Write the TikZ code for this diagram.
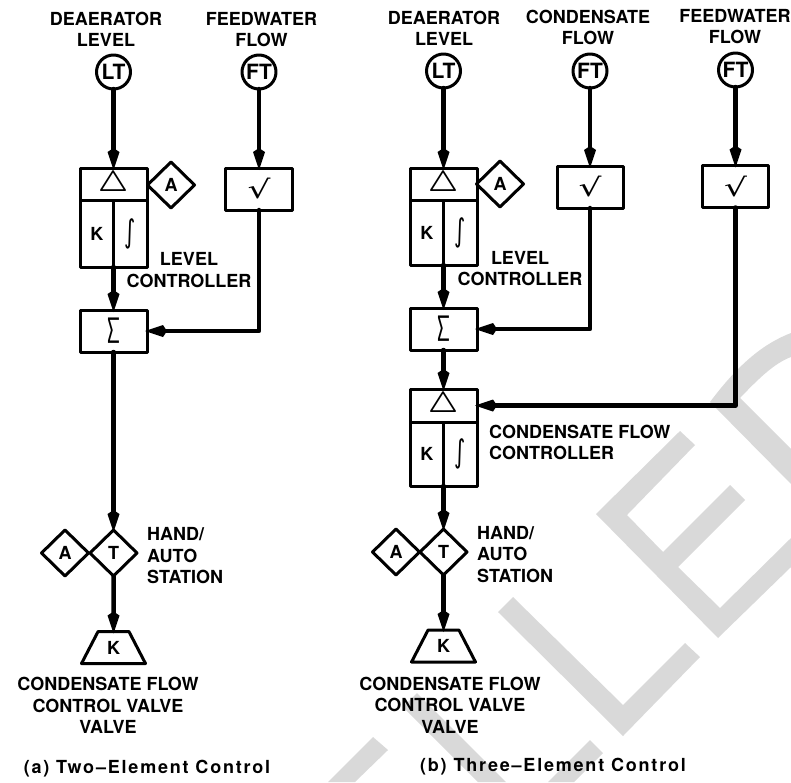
\documentclass[tikz,border=0pt]{standalone}
\usepackage{fontspec}
\setmainfont{TeX Gyre Heros}
\newfontfamily\symfont{DejaVu Sans}
\usetikzlibrary{arrows.meta,shapes.geometric}
\newcommand{\deltasign}{\raisebox{-3pt}{\scalebox{1.7}{$\bigtriangleup$}}}
\newcommand{\intsign}{\scalebox{1.2}[1.75]{\symfont\mdseries ∫}}
\newcommand{\sumsign}{\scalebox{1.2}[1.65]{\mdseries ∑}}
\newcommand{\rootsign}{\scalebox{2}[1.4]{\symfont\mdseries √}}
\begin{document}
\begin{tikzpicture}[
    x=1pt,
    y=-1pt,
    line cap=round,
    line join=round,
    tagtext/.style={font=\fontsize{18}{21.5}\selectfont\bfseries,inner sep=0pt,align=center},
    figtitle/.style={font=\fontsize{18}{21.5}\selectfont\bfseries\addfontfeature{LetterSpace=10},inner sep=0pt},
    signal/.style={line width=4.5pt,shorten >=-2pt,-{Kite[length=22pt,width=12pt,inset=4pt]}},
    block/.style={draw,line width=3pt,outer sep=0pt,inner sep=0pt,font=\fontsize{18}{21.5}\selectfont\bfseries\boldmath},
    transmitter/.style={block,circle,minimum size=34pt,font=\fontsize{21}{24}\selectfont\bfseries},
    gate/.style={block,diamond,minimum width=47pt,minimum height=46pt},
    final/.style={block,trapezium,trapezium stretches=true,trapezium angle=62,minimum width=64pt,minimum height=32pt},
    stamp/.style={fill=black!15}
]

\useasboundingbox (0,0) rectangle (791,782);

% -------------------------------------------------
% Watermark letters behind the drawing
% -------------------------------------------------

\fill[stamp] (710,402) .. controls (740,362) and (765,343) .. (791,333)
    -- (791,357) .. controls (775,363) and (760,377) .. (740,398)
    -- (791,449) -- (791,484) -- cycle;
\fill[stamp] (680,431) -- (695,445) -- (627,515) -- (663,552) -- (730,485) -- (745,500)
    -- (678,567) -- (720,608) -- (791,538) -- (791,567) -- (718,638) -- (596,514) -- cycle;
\fill[stamp] (513,597) -- (623,705) -- (685,643) -- (700,657) -- (623,736) -- (498,612) -- cycle;
\fill[stamp] (373,737) -- (388,750) -- (355,782) -- (328,782) -- cycle;
\fill[stamp] (590,740) -- (603,753) -- (574,782) -- (548,782) -- cycle;
\fill[stamp] (417,693) -- (506,782) -- (478,782) -- (403,707) -- cycle;

% -------------------------------------------------
% Two-element control: blocks
% -------------------------------------------------

\node[transmitter] (LTa) at (113.5,72) {LT};
\node[transmitter] (FTa) at (259,72) {FT};

\node[block,minimum width=67pt,minimum height=32pt] (DELa) at (113.5,184) {\deltasign};
\node[block,minimum width=33.5pt,minimum height=67pt] (Ka) at (96.75,233.5) {K};
\node[block,minimum width=33.5pt,minimum height=67pt] (INTa) at (130.25,233.5) {\intsign};
\node[gate] (GAa) at (171,185) {A};

\node[block,minimum width=67pt,minimum height=42pt] (ROOTa) at (259,189) {\rootsign};
\node[block,minimum width=67pt,minimum height=42pt] (SUMa) at (113.5,331) {\sumsign};

\node[gate] (HTa) at (113.5,553) {T};
\node[gate] (HAa) at (65,553) {A};
\node[final] (VALVEa) at (113.5,647.5) {K};

% -------------------------------------------------
% Two-element control: lines
% -------------------------------------------------

\draw[signal] (LTa) -- (DELa);
\draw[signal] (FTa) -- (ROOTa);
\draw[signal] (INTa.south west) -- (SUMa);
\draw[signal] (ROOTa) |- (SUMa);
\draw[signal] (SUMa) -- (HTa);
\draw[signal] (HTa) -- (VALVEa);

% -------------------------------------------------
% Two-element control: labels
% -------------------------------------------------

\node[tagtext] (TDa) at (106,29.5) {DEAERATOR\\LEVEL};
\node[tagtext] (TFa) at (261.5,29.5) {FEEDWATER\\FLOW};
\node[tagtext] (TCa) at (189,270) {LEVEL\\CONTROLLER};
\node[tagtext,anchor=west,align=left] (THa) at (147,556) {HAND/\\AUTO\\STATION};
\node[tagtext] (TVa) at (108,705.5) {CONDENSATE FLOW\\CONTROL VALVE\\VALVE};
\node[figtitle] (CAPa) at (147,769) {(a) Two--Element Control};

% -------------------------------------------------
% Three-element control: blocks
% -------------------------------------------------

\node[transmitter] (LTb) at (443.5,71) {LT};
\node[transmitter] (FTb) at (590,71) {FT};
\node[transmitter] (FTc) at (735.5,70) {FT};

\node[block,minimum width=67pt,minimum height=32pt] (DELb) at (443.5,184) {\deltasign};
\node[block,minimum width=33.5pt,minimum height=65pt] (Kb) at (426.75,232.5) {K};
\node[block,minimum width=33.5pt,minimum height=65pt] (INTb) at (460.25,232.5) {\intsign};
\node[gate] (GAb) at (500,184) {A};

\node[block,minimum width=66pt,minimum height=42pt] (ROOTb) at (590,187) {\rootsign};
\node[block,minimum width=66pt,minimum height=42pt] (ROOTc) at (735.5,186.5) {\rootsign};
\node[block,minimum width=67pt,minimum height=42pt] (SUMb) at (443.5,329) {\sumsign};

\node[block,minimum width=67pt,minimum height=33pt] (DELc) at (443.5,405.5) {\deltasign};
\node[block,minimum width=33.5pt,minimum height=64pt] (Kc) at (426.75,454) {K};
\node[block,minimum width=33.5pt,minimum height=64pt] (INTc) at (460.25,454) {\intsign};

\node[gate] (HTb) at (443.5,552) {T};
\node[gate] (HAb) at (396,552) {A};
\node[final] (VALVEb) at (443.5,646) {K};

% -------------------------------------------------
% Three-element control: lines
% -------------------------------------------------

\draw[signal] (LTb) -- (DELb);
\draw[signal] (FTb) -- (ROOTb);
\draw[signal] (FTc) -- (ROOTc);
\draw[signal] (INTb.south west) -- (SUMb);
\draw[signal] (ROOTb) |- (SUMb);
\draw[signal] (SUMb) -- (DELc);
\draw[signal] (ROOTc) |- (DELc);
\draw[signal] (INTc.south west) -- (HTb);
\draw[signal] (HTb) -- (VALVEb);

% -------------------------------------------------
% Three-element control: labels
% -------------------------------------------------

\node[tagtext] (TDb) at (444,28.5) {DEAERATOR\\LEVEL};
\node[tagtext] (TEb) at (588,27.5) {CONDENSATE\\FLOW};
\node[tagtext] (TFb) at (735,26.5) {FEEDWATER\\FLOW};
\node[tagtext] (TCb) at (520,268.5) {LEVEL\\CONTROLLER};
\node[tagtext,anchor=west,align=left] (TGb) at (489,442.5) {CONDENSATE FLOW\\CONTROLLER};
\node[tagtext,anchor=west,align=left] (THb) at (477,554.5) {HAND/\\AUTO\\STATION};
\node[tagtext] (TVb) at (450,705) {CONDENSATE FLOW\\CONTROL VALVE\\VALVE};
\node[figtitle] (CAPb) at (553,767) {(b) Three--Element Control};

\end{tikzpicture}
\end{document}
